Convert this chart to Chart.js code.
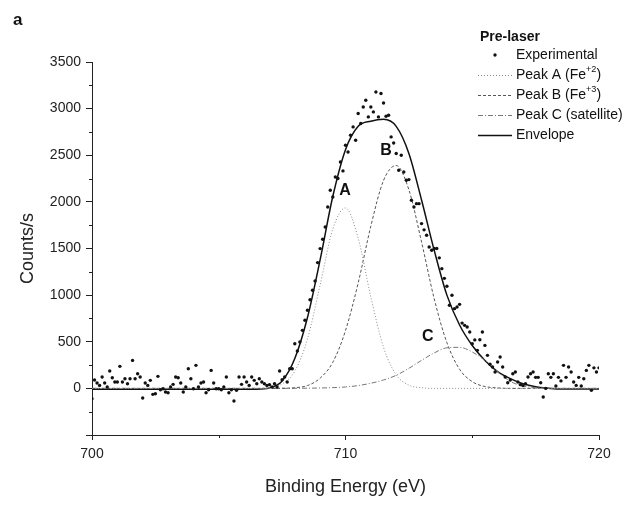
<!DOCTYPE html>
<html>
<head>
<meta charset="utf-8">
<script src="https://cdn.jsdelivr.net/npm/chart.js@4.4.0/dist/chart.umd.min.js"></script>
<style>
  html, body { margin: 0; padding: 0; background: #fff; }
  canvas { display: block; }
</style>
</head>
<body>
<canvas id="xpsChart" width="636" height="506"></canvas>
<script>
const ctx = document.getElementById("xpsChart").getContext("2d");

// Experimental counts, one point every 0.1 eV from 700.0 to 720.0
const expCounts = [
  -110, 90, 57, 32, 122, 57, 14, 186, 114, 68,
  68, 236, 68, 104, 50, 104, 300, 104, 157, 122,
  -104, 57, 32, 86, -64, -57, 129, -14, -4, -39,
  -47, 14, 43, 122, 114, 57, -39, 14, 211, 104,
  -4, 247, 14, 57, 68, -47, -14, 193, 57, -4,
  -4, -14, 14, 122, -47, -14, -136, -20, 122, 43,
  122, 68, 32, 122, 86, 50, 104, 68, 50, 32,
  40, 14, 50, 14, 186, 93, 122, 68, 211, 211,
  479, 401, 497, 622, 730, 837, 951, 1052, 1152, 1349,
  1499, 1600, 1731, 1945, 2125, 2053, 2267, 2250, 2428, 2332,
  2607, 2535, 2715, 2804, 2661, 2947, 2840, 3018, 3090, 2911,
  3018, 2965, 3179, 2911, 3162, 3061, 2918, 2929, 2697, 2632,
  2518, 2339, 2500, 2321, 2232, 2239, 2017, 1945, 1981, 1981,
  1767, 1700, 1642, 1516, 1481, 1500, 1500, 1400, 1284, 1180,
  1095, 891, 998, 855, 873, 901, 700, 676, 658, 604,
  479, 520, 408, 522, 604, 461, 354, 260, 229, 175,
  283, 336, 229, 122, 60, 90, 157, 175, 68, 40,
  30, 50, 122, 157, 175, 118, 118, 60, -93, 0,
  157, 118, 157, 25, 118, 80, 247, 118, 229, 175,
  68, 32, 118, 25, 104, 193, 247, -21, 220, 175,
  220
];
const expEnergy = expCounts.map((c, i) => +(700 + i * 0.1).toFixed(1));

// Fitted curves, read every 0.5 eV
const fitEnergy = [700, 700.5, 701, 701.5, 702, 702.5, 703, 703.5, 704, 704.5,
  705, 705.5, 706, 706.5, 707, 707.5, 708, 708.5, 709, 709.5,
  710, 710.5, 711, 711.5, 712, 712.5, 713, 713.5, 714, 714.5,
  715, 715.5, 716, 716.5, 717, 717.5, 718, 718.5, 719, 719.5, 720];
const peakA = [0, 0, 0, 0, 0, 0, 0, 0, 0, 0,
  0, 0, 0, 0, 9, 48, 185, 530, 1110, 1710,
  1935, 1610, 980, 440, 145, 35, 7, 0, 0, 0,
  0, 0, 0, 0, 0, 0, 0, 0, 0, 0, 0];
const peakB = [0, 0, 0, 0, 0, 0, 0, 0, 0, 0,
  0, 0, 0, 0, 0, 1, 7, 30, 110, 280,
  620, 1130, 1740, 2230, 2390, 2130, 1570, 960, 490, 205,
  72, 20, 5, 0, 0, 0, 0, 0, 0, 0, 0];
const peakC = [0, 0, 0, 0, 0, 0, 0, 0, 0, 0,
  0, 0, 0, 0, 0, 0, 1, 2, 4, 8,
  15, 30, 55, 90, 140, 215, 300, 380, 435, 440,
  390, 300, 180, 75, 25, 8, 2, 0, 0, 0, 0];
const envelope = [-10, -10, -10, -10, -10, -10, -10, -10, -10, -10,
  -10, -10, -10, -10, 5, 80, 320, 760, 1380, 2060,
  2560, 2810, 2865, 2885, 2810, 2520, 2020, 1480, 1000, 680,
  460, 300, 180, 105, 50, 18, 2, -8, -8, -8, -8];

const seriesLabels = ["Experimental", "Peak A (Fe^{+2})", "Peak B (Fe^{+3})", "Peak C (satellite)", "Envelope"];
const legendTitle = "Pre-laser";
const peakNames = ["A", "B", "C"];
const peakNameSpots = [[709.98, 2125], [711.6, 2545], [713.25, 550]];

const FONT = '"Liberation Sans", Arial, sans-serif';

function pairs(xs, ys) {
  return ys.map((y, i) => ({ x: xs[i], y: y }));
}

function curve(label, data, color, dash, width) {
  return {
    label: label,
    data: pairs(fitEnergy, data),
    showLine: true,
    borderColor: color,
    borderWidth: width,
    borderDash: dash,
    pointRadius: 0,
    pointHoverRadius: 0,
    cubicInterpolationMode: "monotone",
    fill: false,
  };
}

// draw text with ^{...} parts as superscript
function drawRich(c, text, x, y, size) {
  const parts = text.split(/\^\{([^}]*)\}/);
  parts.forEach((p, i) => {
    if (i % 2 === 1) {
      c.font = (size * 0.65) + "px " + FONT;
      c.fillText(p, x, y - size * 0.38);
    } else {
      c.font = size + "px " + FONT;
      c.fillText(p, x, y);
    }
    x += c.measureText(p).width;
  });
}

const xpsChart = new Chart(ctx, {
  type: "scatter",
  data: {
    datasets: [
      {
        label: seriesLabels[0],
        data: pairs(expEnergy, expCounts),
        pointRadius: 1.7,
        pointHoverRadius: 1.7,
        pointBackgroundColor: "#111",
        pointBorderWidth: 0,
        order: 0,
      },
      curve(seriesLabels[1], peakA, "#8a8a8a", [1, 2], 1),
      curve(seriesLabels[2], peakB, "#555", [3, 2], 1),
      curve(seriesLabels[3], peakC, "#777", [5, 2, 1, 2], 1),
      curve(seriesLabels[4], envelope, "#111", [], 1.5),
    ],
  },
  options: {
    responsive: false,
    animation: false,
    layout: { padding: { top: 62, right: 37, left: 0, bottom: 0 } },
    scales: {
      x: {
        type: "linear",
        min: 700,
        max: 720,
        afterFit: (s) => { s.height = 71; },
        border: { display: true, color: "#222", width: 1 },
        grid: { drawOnChartArea: false, drawTicks: true, tickLength: 5, color: "#222" },
        ticks: { stepSize: 10, padding: 6, color: "#222", maxRotation: 0, font: { family: FONT, size: 14 } },
        title: { display: true, text: "Binding Energy (eV)", color: "#222", font: { family: FONT, size: 18 }, padding: { bottom: 8 } },
      },
      y: {
        min: -500,
        max: 3500,
        afterFit: (s) => { s.width = 92; },
        border: { display: true, color: "#222", width: 1 },
        grid: { drawOnChartArea: false, drawTicks: true, tickLength: 6, color: "#222" },
        ticks: { stepSize: 500, padding: 5, color: "#222", font: { family: FONT, size: 14 },
          callback: (v) => (v < 0 ? "" : v) },
        title: { display: true, text: "Counts/s", color: "#222", font: { family: FONT, size: 18 }, padding: { top: 17 } },
      },
    },
    plugins: {
      legend: { display: false },
      tooltip: { enabled: false },
    },
  },
  plugins: [
    {
      id: "minorTicks",
      afterDraw: function (chart) {
        const c = chart.ctx;
        const xs = chart.scales.x;
        const ys = chart.scales.y;
        c.save();
        c.strokeStyle = "#222";
        c.lineWidth = 1;
        c.beginPath();
        for (let v = -250; v < 3500; v += 500) {
          const py = Math.round(ys.getPixelForValue(v)) + 0.5;
          c.moveTo(xs.left - 3, py);
          c.lineTo(xs.left, py);
        }
        [705, 715].forEach((v) => {
          const px = Math.round(xs.getPixelForValue(v)) + 0.5;
          c.moveTo(px, ys.bottom);
          c.lineTo(px, ys.bottom + 3);
        });
        c.stroke();
        c.restore();
      },
    },
    {
      id: "annotations",
      afterDraw: function (chart) {
        const c = chart.ctx;
        c.save();
        c.fillStyle = "#111";
        c.textAlign = "center";
        c.textBaseline = "middle";
        c.font = "bold 16px " + FONT;
        peakNames.forEach((n, i) => {
          c.fillText(n, chart.scales.x.getPixelForValue(peakNameSpots[i][0]),
            chart.scales.y.getPixelForValue(peakNameSpots[i][1]));
        });
        c.textAlign = "left";
        c.font = "bold 17px " + FONT;
        c.fillText("a", 13, 20);
        c.restore();
      },
    },
    {
      id: "sideLegend",
      afterDraw: function (chart) {
        const c = chart.ctx;
        c.save();
        c.fillStyle = "#111";
        c.textAlign = "left";
        c.textBaseline = "middle";
        c.font = "bold 14px " + FONT;
        c.fillText(legendTitle, 480, 37);
        chart.data.datasets.forEach((ds, i) => {
          const y = 55 + i * 20;
          if (ds.showLine) {
            c.strokeStyle = ds.borderColor;
            c.lineWidth = ds.borderWidth;
            c.setLineDash(ds.borderDash);
            c.beginPath();
            c.moveTo(478, y + 0.5);
            c.lineTo(512, y + 0.5);
            c.stroke();
            c.setLineDash([]);
          } else {
            c.beginPath();
            c.arc(495, y, 1.7, 0, 2 * Math.PI);
            c.fill();
          }
          c.fillStyle = "#111";
          drawRich(c, ds.label, 516, y, 14);
        });
        c.restore();
      },
    },
  ],
});
</script>
</body>
</html>
